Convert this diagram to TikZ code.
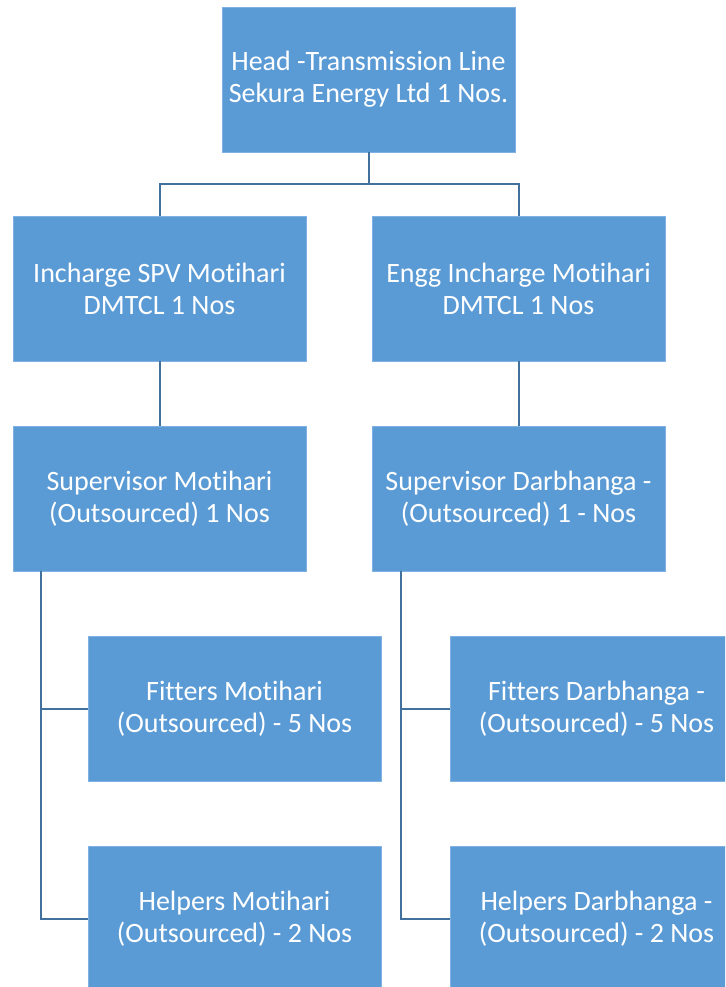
\documentclass[tikz,border=0pt]{standalone}
\usepackage{fontspec}
\setmainfont{Carlito}[Ligatures={TeX,NoCommon}]
\usepackage{tikz}
\usetikzlibrary{calc, positioning}

\definecolor{boxblue}{HTML}{5B9BD5}
\definecolor{boxedge}{HTML}{7FB2E2}
\definecolor{linkblue}{HTML}{41719C}

\begin{document}
\begin{tikzpicture}[
                x=1pt, y=-1pt,
                box/.style={rectangle, draw=boxedge, line width=0.8pt, fill=boxblue, text=white, minimum width=293pt, minimum height=145pt, inner sep=0pt, font=\fontsize{28}{32}\selectfont, align=center},
                link/.style={draw=linkblue, line width=2pt}
            ]
                \clip (0,0) rectangle (725,987);
                \fill[white] (0,0) rectangle (725,987);

                \node[box] (head) at (368.5,79.5) {Head -Transmission Line\\Sekura Energy Ltd 1 Nos.};

                \node[box] (spv) at (159.5,288.5) {Incharge SPV Motihari\\DMTCL 1 Nos};
                \node[box] (engg) at (518.5,288.5) {Engg Incharge Motihari\\DMTCL 1 Nos};

                \node[box] (supM) at (159.5,498.5) {Supervisor Motihari\\(Outsourced) 1 Nos};
                \node[box] (supD) at (518.5,498.5) {Supervisor Darbhanga -\\(Outsourced) 1 - Nos};

                \node[box] (fitM) at (234.5,708.5) {Fitters Motihari\\(Outsourced) - 5 Nos};
                \node[box] (helpM) at (234.5,918.5) {Helpers Motihari\\(Outsourced) - 2 Nos};
                \node[box] (fitD) at (596.5,708.5) {Fitters Darbhanga -\\(Outsourced) - 5 Nos};
                \node[box] (helpD) at (596.5,918.5) {Helpers Darbhanga -\\(Outsourced) - 2 Nos};

                \coordinate (fork) at (368.5,184);
                \draw[link] (head.south) -- (fork);
                \draw[link] (fork) -| (spv.north);
                \draw[link] (fork) -| (engg.north);

                \draw[link] (spv.south) -- (supM.north);
                \draw[link] (engg.south) -- (supD.north);

                \draw[link] ([xshift=28pt]supM.south west) |- (fitM.west);
                \draw[link] ([xshift=28pt]supM.south west) |- (helpM.west);
                \draw[link] ([xshift=29pt]supD.south west) |- (fitD.west);
                \draw[link] ([xshift=29pt]supD.south west) |- (helpD.west);
            \end{tikzpicture}
\end{document}
